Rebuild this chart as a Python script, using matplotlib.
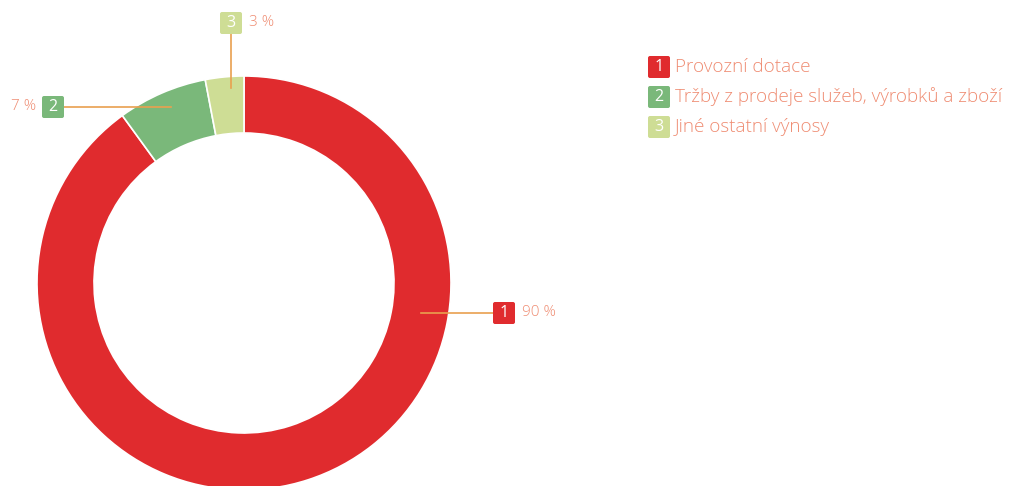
import matplotlib
matplotlib.use("Agg")
import matplotlib.pyplot as plt
from matplotlib.patches import FancyBboxPatch

categories = ["Provozní dotace", "Tržby z prodeje služeb, výrobků a zboží", "Jiné ostatní výnosy"]
numbers = ["1", "2", "3"]
values = [90, 7, 3]
pct_labels = ["90 %", "7 %", "3 %"]
colors = ["#e02b2e", "#7ab87a", "#cedd95"]

text_col = "#ef8c72"
line_col = "#e9a04f"
plt.rcParams['font.family'] = ['Open Sans', 'DejaVu Sans']

W, H = 1011, 486
fig = plt.figure(figsize=(W / 100, H / 100), dpi=100)
ax = fig.add_axes([0, 0, 1, 1])

cx, cy = 244, H - 283
R, ring = 207, 57
ax.pie(values, colors=colors, startangle=90, counterclock=False, center=(cx, cy),
       radius=R, wedgeprops=dict(width=ring, edgecolor="white", linewidth=1.2))
ax.set_xlim(0, W)
ax.set_ylim(0, H)
ax.set_aspect("equal")
ax.axis("off")


def num_box(x, y, i, s=22):
    ax.add_patch(FancyBboxPatch((x - s / 2 + 2, y - s / 2 + 2), s - 4, s - 4,
                                boxstyle="round,pad=2", fc=colors[i], ec="none", zorder=5))
    ax.text(x, y, numbers[i], color="white", ha="center", va="center",
            fontsize=11.5, zorder=6)


# leader lines and labels (pixel coords, y from top)
ax.plot([421, 493], [H - 313, H - 313], color=line_col, lw=1.2, zorder=4)
num_box(504, H - 313, 0)
ax.text(522, H - 313, pct_labels[0], color=text_col, ha="left", va="center", fontsize=11, fontweight="light")

ax.plot([64, 171], [H - 107, H - 107], color=line_col, lw=1.2, zorder=4)
num_box(53, H - 107, 1)
ax.text(36, H - 107, pct_labels[1], color=text_col, ha="right", va="center", fontsize=11, fontweight="light")

ax.plot([231, 231], [H - 34, H - 88], color=line_col, lw=1.2, zorder=4)
num_box(231, H - 23, 2)
ax.text(249, H - 23, pct_labels[2], color=text_col, ha="left", va="center", fontsize=11, fontweight="light")

# legend
for i, name in enumerate(categories):
    y = H - (67 + 30 * i)
    num_box(659, y, i)
    ax.text(675, y, name, color=text_col, ha="left", va="center", fontsize=13.6, fontweight="light")

fig.savefig("out.png", dpi=100)
